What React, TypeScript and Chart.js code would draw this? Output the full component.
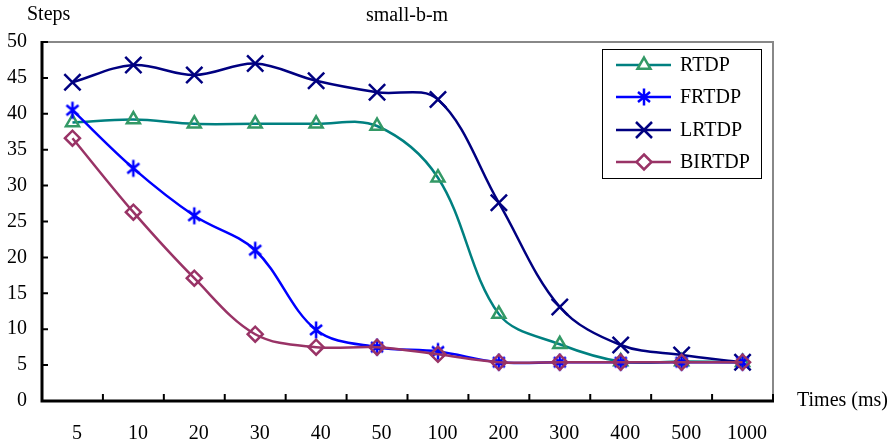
import React, { useEffect, useRef } from "react";
import { Chart, registerables } from "chart.js";

Chart.register(...registerables);

const categories = ["5", "10", "20", "30", "40", "50", "100", "200", "300", "400", "500", "1000"];
const rtdp = [38.8, 39.2, 38.6, 38.6, 38.6, 38.3, 31.1, 12.1, 7.9, 5.5, 5.5, 5.4];
const frtdp = [40.5, 32.4, 25.8, 21.0, 9.9, 7.5, 6.9, 5.4, 5.4, 5.4, 5.4, 5.4];
const lrtdp = [44.4, 46.8, 45.4, 47.0, 44.6, 43.0, 42.0, 27.6, 13.1, 7.8, 6.4, 5.4];
const birtdp = [36.6, 26.3, 17.1, 9.3, 7.5, 7.5, 6.5, 5.4, 5.4, 5.4, 5.4, 5.4];
const seriesNames = ["RTDP", "FRTDP", "LRTDP", "BIRTDP"];
const yMin = 0;
const yMax = 50;
const yStep = 5;

const FONT = "'Liberation Serif', 'Times New Roman', serif";

const lineColors = ["#008080", "#0000FF", "#000080", "#993366"];
const markerColors = ["#339966", "#0000FF", "#000080", "#993366"];

function makeAsterisk(color: string): HTMLCanvasElement {
  const c = document.createElement("canvas");
  c.width = 22;
  c.height = 22;
  const g = c.getContext("2d")!;
  g.strokeStyle = color;
  g.lineWidth = 2.5;
  g.lineCap = "butt";
  const x = 11, y = 11;
  g.beginPath();
  g.moveTo(x, y - 8.5);
  g.lineTo(x, y + 8.5);
  g.moveTo(x - 6, y - 5);
  g.lineTo(x + 6, y + 5);
  g.moveTo(x + 6, y - 5);
  g.lineTo(x - 6, y + 5);
  g.stroke();
  return c;
}

function drawMarker(ctx: CanvasRenderingContext2D, style: any, x: number, y: number) {
  if (typeof style !== "string") {
    ctx.drawImage(style, x - style.width / 2, y - style.height / 2);
    return;
  }
  ctx.beginPath();
  if (style === "triangle") {
    const r = 7.5;
    for (let k = 0; k < 3; k++) {
      const a = -Math.PI / 2 + (k * 2 * Math.PI) / 3;
      const px = x + Math.cos(a) * r;
      const py = y + Math.sin(a) * r;
      if (k === 0) ctx.moveTo(px, py);
      else ctx.lineTo(px, py);
    }
    ctx.closePath();
    ctx.fillStyle = "white";
    ctx.fill();
  } else if (style === "rectRot") {
    const r = 7.5;
    ctx.moveTo(x, y - r);
    ctx.lineTo(x + r, y);
    ctx.lineTo(x, y + r);
    ctx.lineTo(x - r, y);
    ctx.closePath();
    ctx.fillStyle = "white";
    ctx.fill();
  } else if (style === "crossRot") {
    const d = 8;
    ctx.moveTo(x - d, y - d);
    ctx.lineTo(x + d, y + d);
    ctx.moveTo(x + d, y - d);
    ctx.lineTo(x - d, y + d);
  }
  ctx.stroke();
}

const decorPlugin = {
  id: "decor",
  afterDraw(chart: any) {
    const ctx: CanvasRenderingContext2D = chart.ctx;
    const { left, right, top, bottom } = chart.chartArea;
    const xs = chart.scales.x;
    const ys = chart.scales.y;
    ctx.save();
    // gray frame top/right
    ctx.strokeStyle = "#888888";
    ctx.lineWidth = 2;
    ctx.beginPath();
    ctx.moveTo(left + 1, top);
    ctx.lineTo(right, top);
    ctx.lineTo(right, bottom);
    ctx.stroke();
    // inner ticks
    ctx.strokeStyle = "#000000";
    ctx.lineWidth = 2;
    ctx.beginPath();
    const n = categories.length;
    const half = (xs.getPixelForValue(1) - xs.getPixelForValue(0)) / 2;
    for (let i = 0; i <= n; i++) {
      const px = i < n ? xs.getPixelForValue(i) - half : right;
      ctx.moveTo(px, bottom);
      ctx.lineTo(px, bottom - 7);
    }
    for (let v = yMin; v <= yMax; v += yStep) {
      const py = ys.getPixelForValue(v);
      ctx.moveTo(left, py);
      ctx.lineTo(left + 6, py);
    }
    ctx.stroke();
    // axis lines (black)
    ctx.lineWidth = 3;
    ctx.beginPath();
    ctx.moveTo(left, top - 1);
    ctx.lineTo(left, bottom);
    ctx.lineTo(right + 1, bottom);
    ctx.stroke();

    // texts
    ctx.fillStyle = "#000";
    ctx.font = `20px ${FONT}`;
    ctx.textBaseline = "middle";
    ctx.textAlign = "left";
    ctx.fillText("Steps", 27, 15);
    ctx.textAlign = "center";
    ctx.fillText("small-b-m", 407, 16);
    ctx.textAlign = "left";
    ctx.fillText("Times (ms)", 797, 401);

    // legend
    const bx = 602, by = 49, bw = 159, bh = 129;
    ctx.fillStyle = "white";
    ctx.fillRect(bx, by, bw, bh);
    ctx.strokeStyle = "#000";
    ctx.lineWidth = 1;
    ctx.strokeRect(bx + 0.5, by + 0.5, bw, bh);
    const rows = [65, 97, 130, 162];
    chart.data.datasets.forEach((ds: any, i: number) => {
      const ry = rows[i];
      ctx.strokeStyle = ds.borderColor;
      ctx.lineWidth = 2.5;
      ctx.beginPath();
      ctx.moveTo(616, ry);
      ctx.lineTo(671, ry);
      ctx.stroke();
      ctx.strokeStyle = ds.pointBorderColor;
      ctx.lineWidth = 2.5;
      drawMarker(ctx, ds.pointStyle, 644, ry);
      ctx.fillStyle = "#000";
      ctx.font = `20px ${FONT}`;
      ctx.textAlign = "left";
      ctx.textBaseline = "middle";
      ctx.fillText(ds.label, 680, ry + 1);
    });
    ctx.restore();
  },
};

export default function App() {
  const ref = useRef<HTMLCanvasElement | null>(null);
  useEffect(() => {
    document.body.style.margin = "0";
    const canvas = ref.current;
    if (!canvas) return;
    const allSeries = [rtdp, frtdp, lrtdp, birtdp];
    const orders = [4, 2, 3, 1];
    const styles: any[] = ["triangle", makeAsterisk(markerColors[1]), "crossRot", "rectRot"];
    const radii = [7.5, 8.5, 11.5, 7.5];
    const chart = new Chart(canvas, {
      type: "line",
      data: {
        labels: categories,
        datasets: allSeries.map((d, i) => ({
          label: seriesNames[i],
          data: d,
          borderColor: lineColors[i],
          borderWidth: 2.5,
          pointStyle: styles[i],
          pointRadius: radii[i],
          pointHoverRadius: radii[i],
          pointBorderWidth: 2.5,
          pointBorderColor: markerColors[i],
          pointBackgroundColor: "rgba(255,255,255,0)",
          tension: 0.35,
          fill: false,
          order: orders[i],
        })),
      },
      options: {
        animation: false,
        responsive: false,
        events: [],
        layout: { padding: { left: 0, right: 120, top: 42, bottom: 0 } },
        plugins: {
          legend: { display: false },
          title: { display: false },
          tooltip: { enabled: false },
        },
        scales: {
          x: {
            type: "category",
            offset: true,
            grid: { display: false, drawTicks: false },
            border: { display: false },
            ticks: {
              color: "#000",
              font: { family: FONT, size: 20 },
              padding: 21,
              labelOffset: 4.5,
              maxRotation: 0,
              autoSkip: false,
            },
            afterFit: (s: any) => {
              s.height = 42;
            },
          },
          y: {
            min: yMin,
            max: yMax,
            grid: { display: false, drawTicks: false },
            border: { display: false },
            ticks: {
              stepSize: yStep,
              color: "#000",
              font: { family: FONT, size: 20 },
              padding: 15,
            },
            afterFit: (s: any) => {
              s.width = 42;
            },
          },
        },
      },
      plugins: [decorPlugin],
    });
    return () => chart.destroy();
  }, []);
  return <canvas ref={ref} width={893} height={443} style={{ display: "block", width: 893, height: 443 }} />;
}
